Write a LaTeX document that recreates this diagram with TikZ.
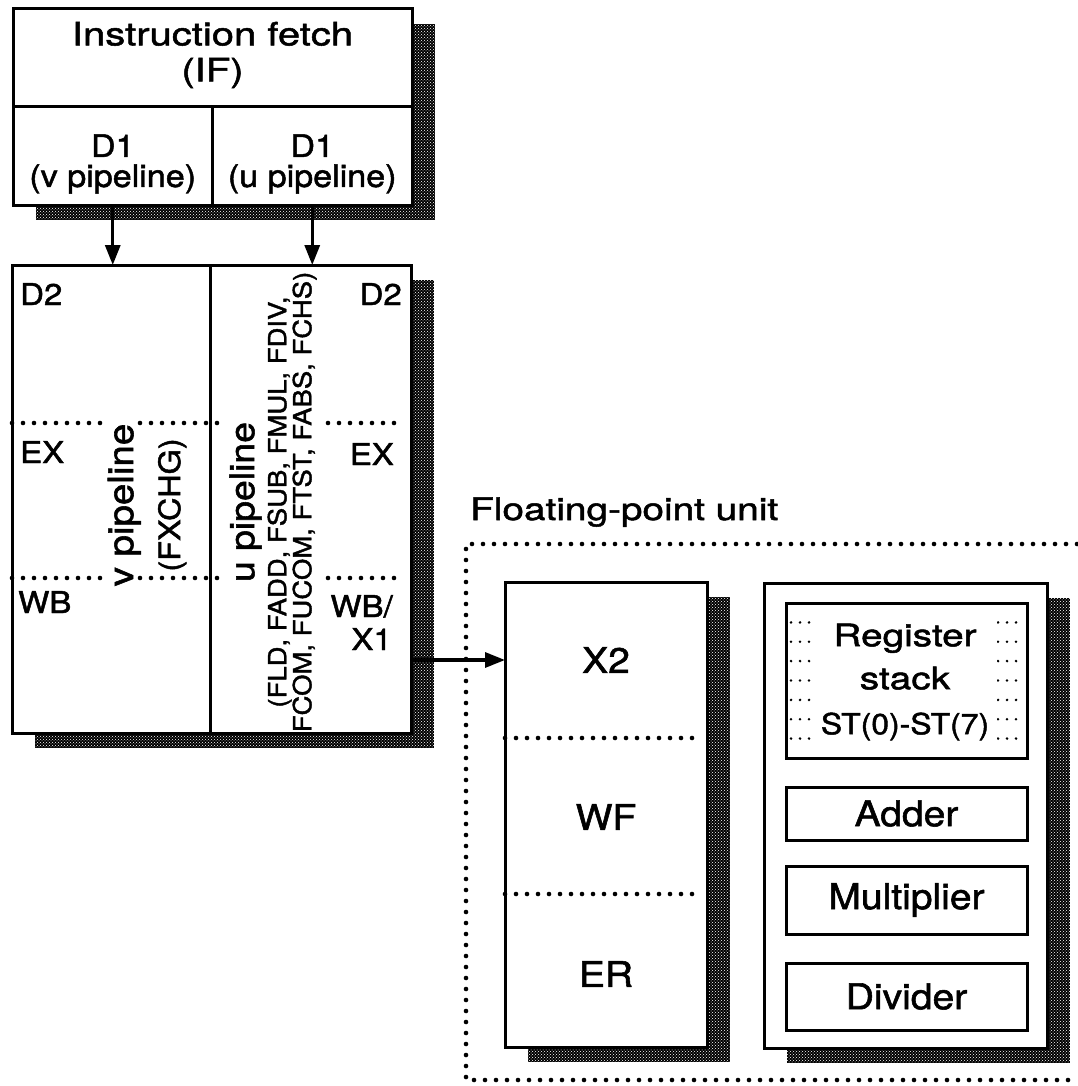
\documentclass[tikz,border=0pt]{standalone}
\usepackage{fontspec}
\setmainfont[FakeStretch=1.1, FakeBold=1.6]{TeX Gyre Heros}
\newfontfamily\widefont[FakeStretch=1.25, FakeBold=1.6]{TeX Gyre Heros}
\usetikzlibrary{arrows.meta, positioning, calc, backgrounds, patterns}

% speckled shadow, shifted right and down from a box
\newcommand{\castshadow}[2]{%
  \fill[black] ($(#1)+(23,15)$) rectangle ($(#2)+(23,15)$);
  \fill[pattern=crosshatch dots, pattern color=white] ($(#1)+(23,15)$) rectangle ($(#2)+(23,15)$);
}

\begin{document}
\begin{tikzpicture}[
    x=1pt, y=-1pt,
    box/.style={draw, line width=3pt, fill=white, inner sep=0pt, outer sep=0pt},
    lbl/.style={inner sep=0pt, font=\fontsize{31}{30}\selectfont},
    stagelbl/.style={inner sep=0pt, font=\fontsize{30}{34}\selectfont},
    unitlbl/.style={inner sep=0pt, font=\fontsize{35.5}{40}\selectfont},
    widelbl/.style={inner sep=0pt, font=\widefont\fontsize{32}{36}\selectfont},
    dotline/.style={line width=4.6pt, line cap=round, dash pattern=on 0pt off 11pt},
    regline/.style={line width=2.8pt, line cap=round, dash pattern=on 0pt off 9pt},
    arrow/.style={-{Triangle[width=15pt,length=20pt]}, line width=3.2pt}
]
\useasboundingbox (0,0) rectangle (1077,1086);

% fetch and first decode
\node[box, minimum width=399, minimum height=98] (ifbox) at (212.5,58) {};
\node[box, minimum width=199.5, minimum height=98, below right=0pt and 0pt of ifbox.south west] (d1v) {};
\node[box, minimum width=199.5, minimum height=98, right=0pt of d1v] (d1u) {};
\node[widelbl, align=center] (iftxt) at ($(ifbox)+(0,-3)$) {Instruction fetch\\(IF)};
\node[lbl, align=center] (d1vtxt) at ($(d1v)+(0,8)$) {D1\\(v pipeline)};
\node[lbl, align=center] (d1utxt) at ($(d1u)+(0,8)$) {D1\\(u pipeline)};

% integer pipelines
\node[box, minimum width=198, minimum height=468] (vcol) at (111,499) {};
\node[box, minimum width=201, minimum height=468, right=0pt of vcol] (ucol) {};
\draw[arrow] (d1v.south) -- (d1v.south |- vcol.north);
\draw[arrow] (d1u.south) -- (d1u.south |- ucol.north);

\node[stagelbl, anchor=base west] (d2v) at (20,305) {D2};
\node[stagelbl, anchor=base east] (d2u) at (402,305) {D2};
\node[stagelbl, anchor=base west] (exv) at (20,463) {EX};
\node[stagelbl, anchor=base east] (exu) at (394,465) {EX};
\node[stagelbl, anchor=base west] (wbv) at (18,613) {WB};
\node[stagelbl, anchor=base east] (wbu) at (393,617) {WB/};
\node[stagelbl, anchor=base east] (xone) at (392,650) {X1};

\draw[dotline] (12,423) -- (107,423) (140,423) -- (228,423) (328,423) -- (405,423);
\draw[dotline] (12,578) -- (107,578) (140,578) -- (228,578) (328,578) -- (405,578);

\node[rotate=90, align=center, inner sep=0pt, font=\fontsize{29.5}{47}\selectfont] (vtxt) at (147,505)
  {{\fontsize{35}{47}\selectfont v pipeline}\\(FXCHG)};
\node[rotate=90, align=center, inner sep=0pt, font=\fontsize{25}{25}\selectfont] (utxt) at (273,502)
  {{\fontsize{34}{25}\selectfont u pipeline}\\[5pt](FLD, FADD, FSUB, FMUL, FDIV,\\FCOM, FUCOM, FTST, FABS, FCHS)};

% floating-point unit
\node[widelbl, font=\widefont\fontsize{31}{36}\selectfont, anchor=base west] (fputitle) at (470,520) {Floating-point unit};
\draw[dotline] (1077,544) -- (466,544) -- (466,1080) -- (1077,1080);

\node[box, minimum width=202, minimum height=465] (fpcol) at (606,814.5) {};
\node[unitlbl] (xtwo) at (606,660) {X2};
\node[unitlbl] (wf) at (606,817) {WF};
\node[unitlbl] (er) at (606,974) {ER};
\draw[dotline] (505,738) -- (700,738) (505,894) -- (700,894);
\draw[arrow] (ucol.east |- xtwo) -- (fpcol.west |- xtwo);

\node[box, minimum width=283, minimum height=465] (fpunit) at (905.5,815.5) {};
\node[box, minimum width=241, minimum height=155] (regstack) at (906.5,680.5) {};
\draw[regline] (791,622.4) -- (1024,622.4) (791,641.8) -- (1024,641.8)
  (791,661.1) -- (1024,661.1) (791,680.5) -- (1024,680.5) (791,699.9) -- (1024,699.9)
  (791,719.3) -- (1024,719.3) (791,738.6) -- (1024,738.6);
\node[fill=white, inner sep=3pt, minimum width=184, align=center,
  font=\widefont\fontsize{31}{43}\selectfont] (regtxt) at (905,682)
  {Register\\stack\\[2pt]{\rmfamily\fontsize{29}{43}\selectfont ST(0)-ST(7)}};
\node[box, unitlbl, minimum width=241, minimum height=53, below=29pt of regstack] (adder) {Adder};
\node[box, unitlbl, minimum width=241, minimum height=68, below=26pt of adder] (mult) {Multiplier};
\node[box, unitlbl, minimum width=241, minimum height=67, below=29pt of mult] (divider) {Divider};

% shadows behind the boxes
\begin{scope}[on background layer]
\fill[white] (0,0) rectangle (1077,1086);
\castshadow{ifbox.north west}{d1u.south east}
\castshadow{vcol.north west}{ucol.south east}
\castshadow{fpcol.north west}{fpcol.south east}
\castshadow{fpunit.north west}{fpunit.south east}
\end{scope}
\end{tikzpicture}
\end{document}
